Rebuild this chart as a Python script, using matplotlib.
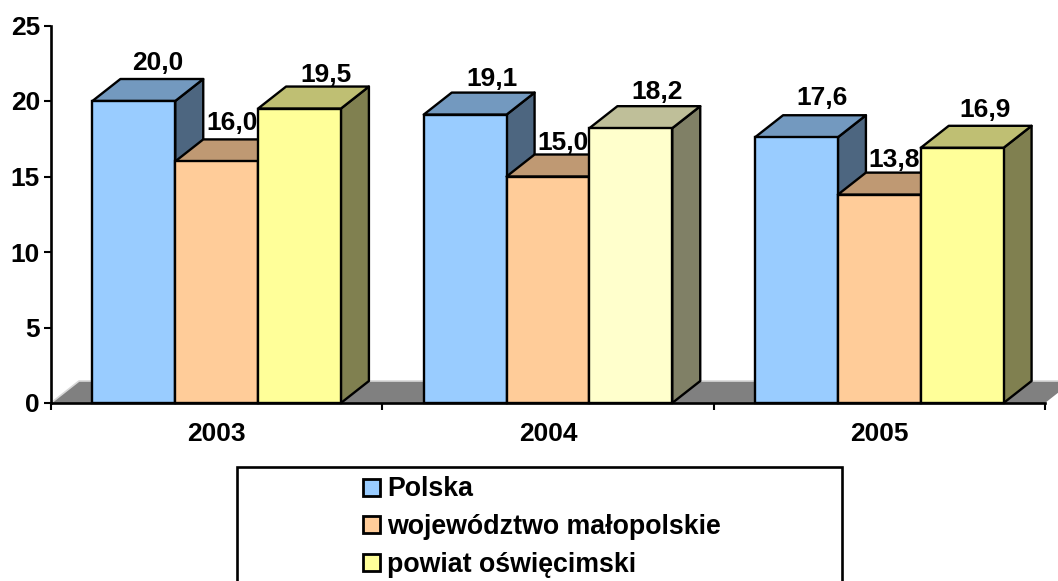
import numpy as np
import matplotlib
matplotlib.use("Agg")
import matplotlib.pyplot as plt
from matplotlib.patches import Rectangle

years = ["2003", "2004", "2005"]
polska = [20.0, 19.1, 17.6]
malopolskie = [16.0, 15.0, 13.8]
oswiecimski = [19.5, 18.2, 16.9]
series_names = ["Polska", "województwo małopolskie", "powiat oświęcimski"]
y_ticks = [0, 5, 10, 15, 20, 25]

# front, top, side colours of each series
blue = ("#99CCFF", "#7399BF", "#4D6680")
orange = ("#FFCC99", "#BF9973", "#806650")
yellow = ("#FFFF99", "#BFBF73", "#808050")
pale = ("#FFFFCC", "#BFBF99", "#808066")  # 2004 yellow bar is paler

# label offsets from front top centre of bar, px
label_dx = [[24, 15, 27], [27, 15, 26], [26, 15, 23]]
label_dy = [[38, 38, 34], [36, 34, 36], [39, 35, 38]]

W, H = 1058, 581
plt.rcParams['font.family'] = ['Liberation Sans', 'DejaVu Sans']
plt.rcParams['font.weight'] = 'bold'
fontStyle = {'fontsize': 19, 'fontweight': 'bold', 'color': 'black'}
legendFont = {'fontsize': 19.3, 'fontweight': 'bold', 'color': 'black'}

fig = plt.figure(figsize=(W / 100, H / 100), dpi=100)
ax = fig.add_axes([51 / W, (H - 403) / H, 994 / W, 377.5 / H])
ax.set_xlim(0, 3)
ax.set_ylim(0, 25)

bar_w = 0.25
depth_x = 28 / (994 / 3)
depth_y = 22 / (377.5 / 25)

# floor
ax.fill([0, depth_x, 3 + depth_x, 3], [0, depth_y, depth_y, 0],
        facecolor="#808080", edgecolor="none", clip_on=False, zorder=1)
ax.plot([0, depth_x, 3 + depth_x], [0, depth_y, depth_y], color="#D8D8D8",
        lw=1.2, clip_on=False, zorder=1)


def bar3d(left, h, cols):
    lw = 1.7
    right = left + bar_w
    ax.fill([right, right + depth_x, right + depth_x, right],
            [0, depth_y, h + depth_y, h], facecolor=cols[2], edgecolor="black",
            lw=lw, joinstyle="round", zorder=2, clip_on=False)
    ax.fill([left, left + depth_x, right + depth_x, right],
            [h, h + depth_y, h + depth_y, h], facecolor=cols[1], edgecolor="black",
            lw=lw, joinstyle="round", zorder=2, clip_on=False)
    ax.add_patch(Rectangle((left, 0), bar_w, h, facecolor=cols[0], edgecolor="black",
                           lw=lw, zorder=2, clip_on=False))


all_vals = [polska, malopolskie, oswiecimski]
for i in range(len(years)):
    for j, vals in enumerate(all_vals):
        cols = [blue, orange, yellow][j]
        if j == 2 and i == 1:
            cols = pale
        left = i + 0.125 + j * bar_w
        bar3d(left, vals[i], cols)
        txt = f"{vals[i]:.1f}".replace(".", ",")
        ax.annotate(txt, (left + bar_w / 2, vals[i]),
                    xytext=(label_dx[i][j] * 0.72, label_dy[i][j] * 0.72),
                    textcoords="offset points", ha="center", va="center",
                    zorder=5, annotation_clip=False, **fontStyle)

for s in ["top", "right"]:
    ax.spines[s].set_visible(False)
for s in ["left", "bottom"]:
    ax.spines[s].set_linewidth(1.9)
    ax.spines[s].set_zorder(4)

ax.set_yticks(y_ticks)
ax.set_yticklabels([str(t) for t in y_ticks], **fontStyle)
ax.set_xticks([0, 1, 2, 3])
ax.set_xticklabels([])
ax.set_xticks([0.5, 1.5, 2.5], labels=years, minor=True, **fontStyle)
ax.tick_params(axis="y", length=5, width=1.5, pad=3)
ax.tick_params(axis="x", which="major", length=5, width=1.5)
ax.tick_params(axis="x", which="minor", length=0, pad=13.5)

# legend box runs off the bottom of the picture
fig.add_artist(Rectangle((237 / W, -20 / H), 605 / W, (H - 467 + 20) / H, facecolor="white",
                         edgecolor="black", lw=1.9, transform=fig.transFigure))
leg_cols = [blue[0], orange[0], yellow[0]]
leg_y = [487, 524.5, 562]
for name, col, yy in zip(series_names, leg_cols, leg_y):
    fig.add_artist(Rectangle((363 / W, (H - yy - 8.5) / H), 17 / W, 17 / H, facecolor=col,
                             edgecolor="black", lw=2, transform=fig.transFigure))
    fig.text(387 / W, (H - yy - 2.5) / H, name, ha="left", va="center", **legendFont)

fig.savefig("out.png", dpi=100)
